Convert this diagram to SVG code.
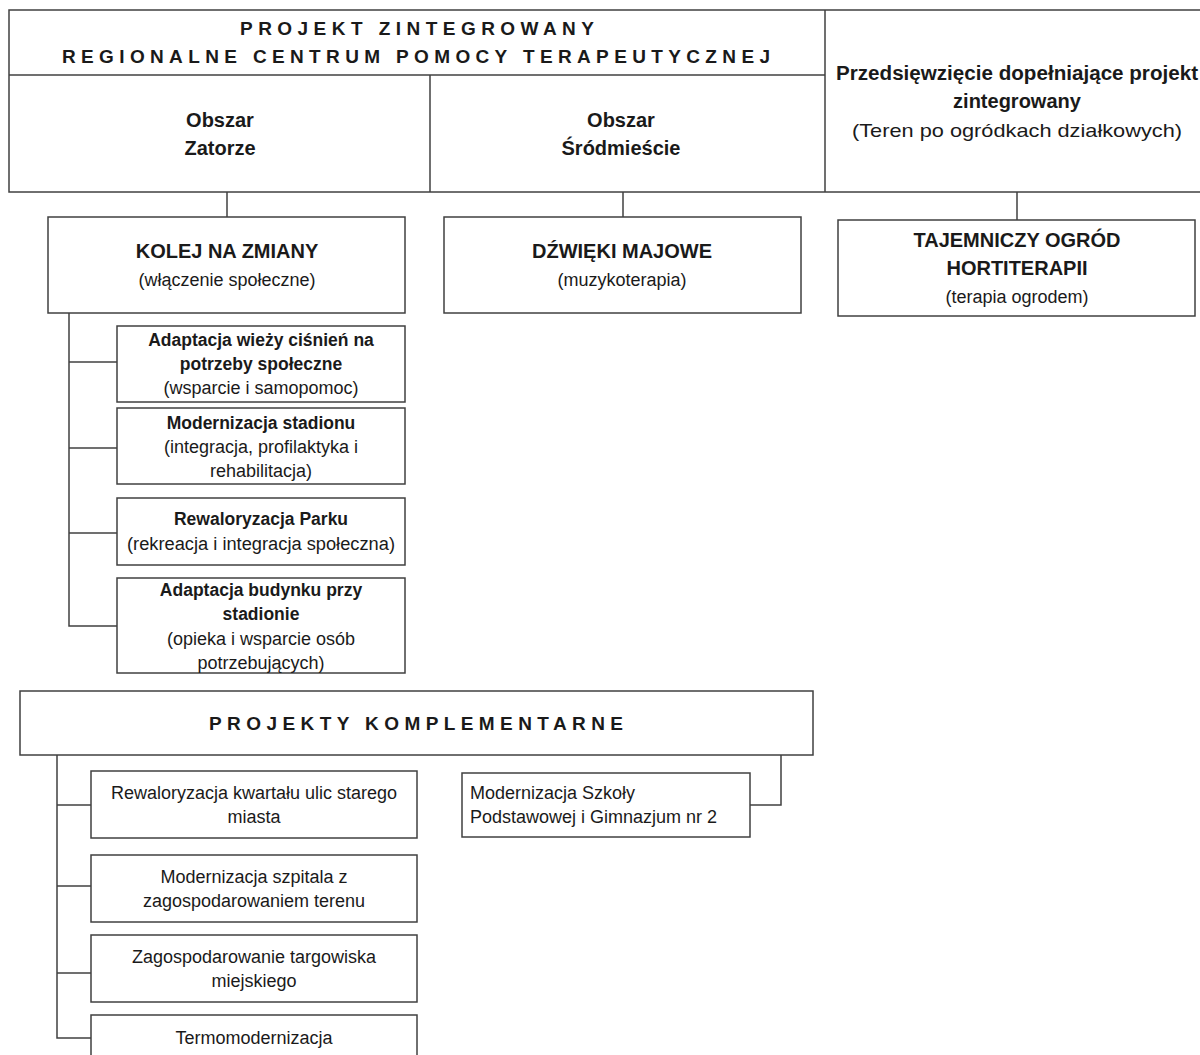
<svg xmlns="http://www.w3.org/2000/svg" width="1200" height="1055" viewBox="0 0 1200 1055">
<style>
.box{fill:#fff;stroke:#404040;stroke-width:1.5}
.ln{fill:none;stroke:#404040;stroke-width:1.5}
text{font-family:"Liberation Sans",Arial,sans-serif;fill:#1a1a1a;text-anchor:middle}
.t{font-weight:bold;font-size:19px}
.h{font-weight:bold;font-size:20px}
.b{font-weight:bold;font-size:17.5px}
.r{font-size:18px}
.s{font-size:18px}
</style>
<rect width="1200" height="1055" fill="#fff"/>
<g id="header">
<rect class="box" x="9" y="10" width="1200" height="182"/>
<line class="ln" x1="9" y1="75" x2="825" y2="75"/>
<line class="ln" x1="825" y1="10" x2="825" y2="192"/>
<line class="ln" x1="430" y1="75" x2="430" y2="192"/>
<text class="t" x="417" y="35" textLength="354" lengthAdjust="spacing">PROJEKT ZINTEGROWANY</text>
<text class="t" x="416" y="63" textLength="708" lengthAdjust="spacing">REGIONALNE CENTRUM POMOCY TERAPEUTYCZNEJ</text>
</g>
<g id="obszar-zatorze">
<text class="h" x="220" y="127">Obszar</text>
<text class="h" x="220" y="155">Zatorze</text>
</g>
<g id="obszar-srodmiescie">
<text class="h" x="621" y="127">Obszar</text>
<text class="h" x="621" y="155">Śródmieście</text>
</g>
<g id="przedsiewziecie">
<text class="h" x="1017" y="80" textLength="362" lengthAdjust="spacingAndGlyphs">Przedsięwzięcie dopełniające projekt</text>
<text class="h" x="1017" y="108">zintegrowany</text>
<text class="r" x="1017" y="137" style="font-size:19px" textLength="330" lengthAdjust="spacingAndGlyphs">(Teren po ogródkach działkowych)</text>
</g>
<g id="connectors">
<line class="ln" x1="227" y1="192" x2="227" y2="217"/>
<line class="ln" x1="623" y1="192" x2="623" y2="217"/>
<line class="ln" x1="1017" y1="192" x2="1017" y2="220"/>
<polyline class="ln" points="69,313 69,626 117,626"/>
<line class="ln" x1="69" y1="362" x2="117" y2="362"/>
<line class="ln" x1="69" y1="448" x2="117" y2="448"/>
<line class="ln" x1="69" y1="533" x2="117" y2="533"/>
<polyline class="ln" points="57,755 57,1038 91,1038"/>
<line class="ln" x1="57" y1="805" x2="91" y2="805"/>
<line class="ln" x1="57" y1="886" x2="91" y2="886"/>
<line class="ln" x1="57" y1="973" x2="91" y2="973"/>
<polyline class="ln" points="781,755 781,805 750,805"/>
</g>
<g id="kolej">
<rect class="box" x="48" y="217" width="357" height="96"/>
<text class="h" x="227" y="258">KOLEJ NA ZMIANY</text>
<text class="r" x="227" y="286">(włączenie społeczne)</text>
</g>
<g id="dzwieki">
<rect class="box" x="444" y="217" width="357" height="96"/>
<text class="h" x="622" y="258">DŹWIĘKI MAJOWE</text>
<text class="r" x="622" y="286">(muzykoterapia)</text>
</g>
<g id="tajemniczy">
<rect class="box" x="838" y="220" width="357" height="96"/>
<text class="h" x="1017" y="247">TAJEMNICZY OGRÓD</text>
<text class="h" x="1017" y="275">HORTITERAPII</text>
<text class="r" x="1017" y="303">(terapia ogrodem)</text>
</g>
<g id="wieza">
<rect class="box" x="117" y="326" width="288" height="76"/>
<text class="b" x="261" y="346">Adaptacja wieży ciśnień na</text>
<text class="b" x="261" y="370">potrzeby społeczne</text>
<text class="r" x="261" y="394">(wsparcie i samopomoc)</text>
</g>
<g id="stadion">
<rect class="box" x="117" y="408" width="288" height="76"/>
<text class="b" x="261" y="429">Modernizacja stadionu</text>
<text class="r" x="261" y="453">(integracja, profilaktyka i</text>
<text class="r" x="261" y="477">rehabilitacja)</text>
</g>
<g id="park">
<rect class="box" x="117" y="498" width="288" height="67"/>
<text class="b" x="261" y="525">Rewaloryzacja Parku</text>
<text class="r" x="261" y="550" textLength="268" lengthAdjust="spacingAndGlyphs">(rekreacja i integracja społeczna)</text>
</g>
<g id="budynek">
<rect class="box" x="117" y="578" width="288" height="95"/>
<text class="b" x="261" y="596">Adaptacja budynku przy</text>
<text class="b" x="261" y="620">stadionie</text>
<text class="r" x="261" y="645">(opieka i wsparcie osób</text>
<text class="r" x="261" y="669">potrzebujących)</text>
</g>
<g id="komplementarne">
<rect class="box" x="20" y="691" width="793" height="64"/>
<text class="t" x="416" y="730" textLength="414" lengthAdjust="spacing">PROJEKTY KOMPLEMENTARNE</text>
</g>
<g id="kwartal">
<rect class="box" x="91" y="771" width="326" height="67"/>
<text class="s" x="254" y="799">Rewaloryzacja kwartału ulic starego</text>
<text class="s" x="254" y="823">miasta</text>
</g>
<g id="szpital">
<rect class="box" x="91" y="855" width="326" height="67"/>
<text class="s" x="254" y="883">Modernizacja szpitala z</text>
<text class="s" x="254" y="907">zagospodarowaniem terenu</text>
</g>
<g id="targowisko">
<rect class="box" x="91" y="935" width="326" height="67"/>
<text class="s" x="254" y="963">Zagospodarowanie targowiska</text>
<text class="s" x="254" y="987">miejskiego</text>
</g>
<g id="termo">
<rect class="box" x="91" y="1015" width="326" height="60"/>
<text class="s" x="254" y="1044">Termomodernizacja</text>
</g>
<g id="szkola">
<rect class="box" x="462" y="773" width="288" height="64"/>
<text class="s" x="470" y="799" style="text-anchor:start">Modernizacja Szkoły</text>
<text class="s" x="470" y="823" style="text-anchor:start">Podstawowej i Gimnazjum nr 2</text>
</g>
</svg>
